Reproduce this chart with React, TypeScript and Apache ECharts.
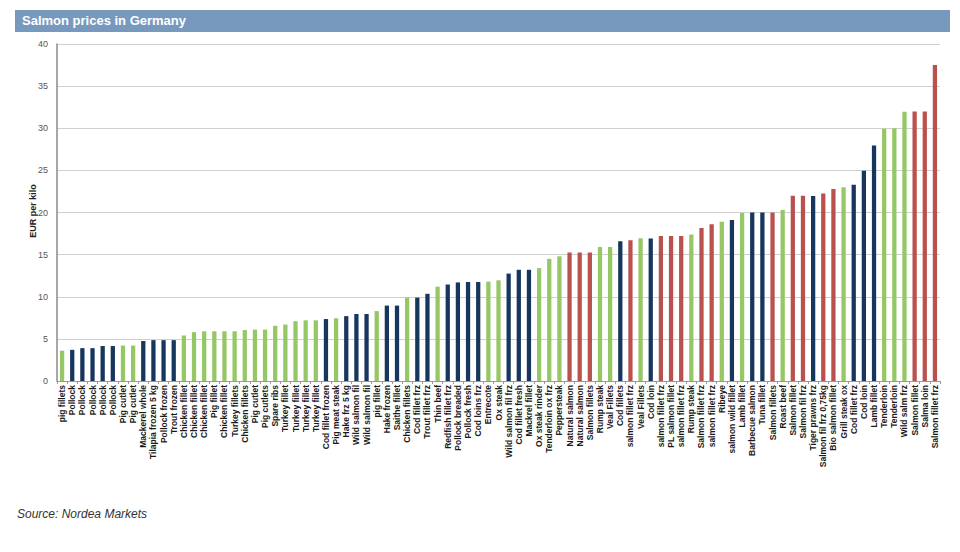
import React, { useEffect, useRef } from "react";
import * as echarts from "echarts";

const categories: string[] = [
  "pig fillets", "Pollock", "Pollock", "Pollock", "Pollock", "Pollock", "Pig cutlet", "Pig cutlet",
  "Mackerel whole", "Tilapia frozen 5 kg", "Pollock frozen", "Trout frozen", "Chicken fillet",
  "Chicken fillet", "Chicken fillet", "Pig fillet", "Chicken fillet", "Turkey fillets", "Chicken fillets",
  "Pig cutlet", "Pig cutlets", "Spare ribs", "Turkey fillet", "Turkey fillet", "Turkey fillet",
  "Turkey fillet", "Cod fillet frozen", "Pig meat steak", "Hake frz 5 kg", "Wild salmon fil",
  "Wild salmon fil", "pig fillet", "Hake frozen", "Saithe fillet", "Chicken fillets", "Cod fillet frz",
  "Trout fillet frz", "Thin beef", "Redfish fillet frz", "Pollock breaded", "Pollock fresh",
  "Cod loins frz", "Entrecote", "Ox steak", "Wild salmon fil frz", "Cod fillet fresh", "Mackrel fillet",
  "Ox steak rinder", "Tenderloin ox frz", "Peppersteak", "Natural salmon", "Natural salmon",
  "Salmon fillets", "Rump steak", "Veal Fillets", "Cod fillets", "salmon fillet frz", "Veal Fillets",
  "Cod loin", "salmon fillet frz", "PL salmon fillet", "salmon fillet frz", "Rump steak",
  "Salmon fillet frz", "salmon fillet frz", "Ribeye", "salmon wild fillet", "Lamb fillet",
  "Barbecue salmon", "Tuna fillet", "Salmon fillets", "Roast beef", "Salmon fillet", "Salmon fil frz",
  "Tiger prawns frz", "Salmon fil frz 0,75kg", "Bio salmon fillet", "Grill steak ox", "Cod fillet frz",
  "Cod loin", "Lamb fillet", "Tenderloin", "Tenderloin", "Wild salm frz", "Salmon fillet", "Salma loin",
  "Salmon fillet frz",
];

const prices: number[] = [
  3.6, 3.7, 3.9, 3.9, 4.15, 4.15, 4.2, 4.2, 4.75, 4.85, 4.85, 4.85, 5.4,
  5.8, 5.9, 5.9, 5.9, 5.9, 6.05, 6.1, 6.1, 6.55, 6.7, 7.1, 7.2,
  7.2, 7.35, 7.45, 7.7, 7.95, 7.95, 8.3, 8.95, 8.95, 9.9, 9.9,
  10.35, 11.2, 11.45, 11.7, 11.75, 11.75, 11.8, 11.95, 12.75, 13.2, 13.2,
  13.4, 14.5, 14.8, 15.25, 15.25, 15.25, 15.9, 15.9, 16.6, 16.7, 16.95,
  16.9, 17.2, 17.2, 17.2, 17.4, 18.15, 18.6, 18.9, 19.1, 19.95,
  20.0, 20.0, 20.0, 20.3, 22.0, 22.0, 21.95, 22.25, 22.8, 23.0, 23.3,
  24.95, 27.95, 29.95, 30.0, 31.95, 32.0, 32.0, 37.5,
];

// G = green group, N = navy group, R = red (salmon) group
const groups: string[] = [
  "G", "N", "N", "N", "N", "N", "G", "G", "N", "N", "N", "N", "G",
  "G", "G", "G", "G", "G", "G", "G", "G", "G", "G", "G", "G",
  "G", "N", "G", "N", "N", "N", "G", "N", "N", "G", "N",
  "N", "G", "N", "N", "N", "N", "G", "G", "N", "N", "N",
  "G", "G", "G", "R", "R", "R", "G", "G", "N", "R", "G",
  "N", "R", "R", "R", "G", "R", "R", "G", "N", "G",
  "N", "N", "R", "G", "R", "R", "N", "R", "R", "G", "N",
  "N", "N", "G", "G", "G", "R", "R", "R",
];

const yTicks = { min: 0, max: 40, interval: 5 };

const groupColor: Record<string, string> = {
  G: "#95C765",
  N: "#17365D",
  R: "#B9514F",
};

export default function App() {
  const ref = useRef<HTMLDivElement>(null);
  useEffect(() => {
    if (!ref.current) return;
    const chart = echarts.init(ref.current, undefined, { renderer: "svg" });
    chart.setOption({
      animation: false,
      backgroundColor: "#ffffff",
      textStyle: { fontFamily: "Liberation Sans, Arial, sans-serif" },
      graphic: [
        {
          type: "rect",
          left: 15,
          top: 10,
          shape: { width: 935, height: 22 },
          style: { fill: "#7799BE" },
          silent: true,
        },
        {
          type: "text",
          left: 22,
          top: 14,
          style: {
            text: "Salmon prices in Germany",
            fill: "#ffffff",
            font: "bold 13px 'Liberation Sans', Arial, sans-serif",
          },
        },
        {
          type: "text",
          x: 33,
          y: 211,
          rotation: Math.PI / 2,
          style: {
            text: "EUR per kilo",
            fill: "#222222",
            align: "center",
            verticalAlign: "middle",
            font: "bold 9px 'Liberation Sans', Arial, sans-serif",
          },
        },
        {
          type: "text",
          left: 17,
          top: 508,
          style: {
            text: "Source: Nordea Markets",
            fill: "#333333",
            font: "italic 12px 'Liberation Sans', Arial, sans-serif",
          },
        },
      ],
      grid: { left: 57, right: 20, top: 44, bottom: 171, containLabel: false },
      xAxis: {
        type: "category",
        data: categories,
        axisLine: { show: true, lineStyle: { color: "#9a9a9a", width: 1 } },
        axisTick: { show: true, alignWithLabel: false, length: 3, lineStyle: { color: "#9a9a9a" } },
        axisLabel: {
          interval: 0,
          rotate: 90,
          fontSize: 8.5,
          color: "#1a1a1a",
          fontWeight: "bold",
          margin: 4,
        },
      },
      yAxis: {
        type: "value",
        min: yTicks.min,
        max: yTicks.max,
        interval: yTicks.interval,
        axisLine: { show: true, lineStyle: { color: "#8a8a8a", width: 1.5 } },
        axisTick: { show: false },
        axisLabel: { fontSize: 9, color: "#555", margin: 9 },
        splitLine: { show: true, lineStyle: { color: "#d0d0d0", width: 1 } },
      },
      series: [
        {
          type: "bar",
          barWidth: "42%",
          data: prices.map((v, i) => ({
            value: v,
            itemStyle: { color: groupColor[groups[i]] },
          })),
        },
      ],
    });
    return () => chart.dispose();
  }, []);
  return (
    <div
      ref={ref}
      style={{ width: 960, height: 552, position: "absolute", left: 0, top: 0 }}
    />
  );
}
